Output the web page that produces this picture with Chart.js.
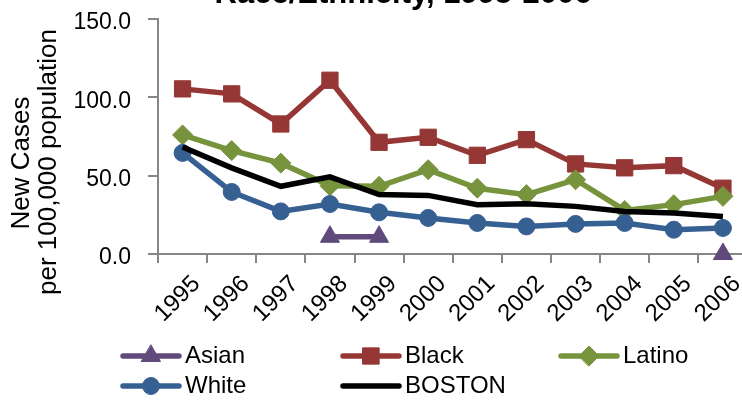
<!DOCTYPE html>
<html>
<head>
<meta charset="utf-8">
<script src="https://cdn.jsdelivr.net/npm/chart.js@4/dist/chart.umd.min.js"></script>
<style>
  html, body { margin: 0; padding: 0; background: #fff; overflow: hidden; }
  #wrap { position: relative; width: 742px; height: 400px; overflow: hidden; }
  #c { position: absolute; left: 0; top: -30px; }
</style>
</head>
<body>
<div id="wrap"><canvas id="c" width="760" height="430"></canvas></div>
<script>
const years = ['1995','1996','1997','1998','1999','2000','2001','2002','2003','2004','2005','2006'];
const asian  = [null, null, null, 11, 11, null, null, null, null, null, null, 0];
const black  = [105.4, 102.2, 83.0, 110.9, 71.3, 74.5, 63.0, 73.0, 57.5, 55.0, 56.4, 42.0];
const latino = [76.0, 66.0, 58.0, 43.6, 43.2, 53.8, 42.0, 37.9, 47.4, 27.8, 31.5, 36.8];
const white  = [64.5, 39.6, 27.2, 31.9, 26.6, 23.0, 19.8, 17.6, 19.2, 19.8, 15.5, 16.6];
const boston = [68.3, 55.0, 43.2, 49.2, 37.9, 37.4, 31.5, 32.1, 30.4, 27.2, 26.2, 24.0];
const yTicks = [0, 50, 100, 150];
const titleText = 'Race/Ethnicity, 1995-2006';
const yTitle = ['New Cases', 'per 100,000 population'];

const FONT = "'Liberation Sans', Arial, sans-serif";
const GRAY = '#868686';

const series = [
  { label: 'Asian',  data: asian,  color: '#604A7B', style: 'triangle', radius: 11, order: 4 },
  { label: 'Black',  data: black,  color: '#953735', style: 'rect',     radius: 11.5, order: 3 },
  { label: 'Latino', data: latino, color: '#77933C', style: 'rectRot',  radius: 10, order: 2 },
  { label: 'White',  data: white,  color: '#376092', style: 'circle',   radius: 8.5, order: 1 },
  { label: 'BOSTON', data: boston, color: '#000000', style: false,      radius: 0, order: 0 }
];

const datasets = series.map(s => ({
  label: s.label,
  data: s.data,
  borderColor: s.color,
  backgroundColor: s.color,
  borderWidth: 5.5,
  pointStyle: s.style,
  pointRadius: s.radius,
  pointHoverRadius: s.radius,
  pointBorderWidth: 1,
  pointBackgroundColor: s.color,
  pointBorderColor: s.color,
  tension: 0,
  spanGaps: false,
  clip: false,
  order: s.order
}));

const decorPlugin = {
  id: 'decor',
  afterDraw(chart) {
    const ctx = chart.ctx;
    ctx.save();
    // title (partially cut off at the top)
    ctx.fillStyle = '#000';
    ctx.font = 'bold 31px ' + FONT;
    ctx.textAlign = 'center';
    ctx.textBaseline = 'alphabetic';
    ctx.fillText(titleText, 403, 33);
    // y axis title
    ctx.font = '26px ' + FONT;
    ctx.textBaseline = 'middle';
    const yc = [[22, 193], [49, 192]];
    yTitle.forEach((t, i) => {
      ctx.save();
      ctx.translate(yc[i][0], yc[i][1]);
      ctx.rotate(-Math.PI / 2);
      ctx.fillText(t, 0, 0);
      ctx.restore();
    });
    // legend
    const cols = [123, 343, 561];
    const rows = [386, 416];
    ctx.font = '24px ' + FONT;
    ctx.textAlign = 'left';
    series.forEach((s, i) => {
      const x = cols[i % 3];
      const y = rows[Math.floor(i / 3)];
      ctx.strokeStyle = s.color;
      ctx.lineWidth = 5.5;
      ctx.lineCap = 'round';
      ctx.beginPath();
      ctx.moveTo(x, y);
      ctx.lineTo(x + 56, y);
      ctx.stroke();
      if (s.style) {
        ctx.fillStyle = s.color;
        ctx.strokeStyle = s.color;
        ctx.lineWidth = 1;
        Chart.helpers.drawPoint(ctx, { pointStyle: s.style, radius: s.radius, rotation: 0, borderWidth: 1 }, x + 28, y);
      }
      ctx.fillStyle = '#000';
      ctx.fillText(s.label, x + 62, y);
    });
    ctx.restore();
  }
};

new Chart(document.getElementById('c'), {
  type: 'line',
  data: { labels: years, datasets },
  plugins: [decorPlugin],
  options: {
    responsive: false,
    devicePixelRatio: 1,
    animation: false,
    layout: { padding: { top: 49, right: 10, left: 0, bottom: 0 } },
    plugins: { legend: { display: false }, title: { display: false }, tooltip: { enabled: false } },
    scales: {
      x: {
        type: 'category',
        offset: true,
        grid: { display: true, offset: true, drawOnChartArea: false, drawTicks: true, tickLength: 9, color: GRAY, lineWidth: 2 },
        border: { display: true, color: GRAY, width: 2 },
        ticks: { color: '#000', font: { family: FONT, size: 24 }, maxRotation: 45, minRotation: 45, autoSkip: false, padding: 7, labelOffset: 14 },
        afterFit(scale) { scale.height = 146; }
      },
      y: {
        min: 0, max: 150,
        afterBuildTicks(scale) { scale.ticks = yTicks.map(v => ({ value: v })); },
        grid: { display: true, drawOnChartArea: false, drawTicks: true, tickLength: 10, color: GRAY, lineWidth: 2 },
        border: { display: true, color: GRAY, width: 2 },
        ticks: { color: '#000', font: { family: FONT, size: 23 }, padding: 17, labelOffset: 4, callback: v => Number(v).toFixed(1) },
        afterFit(scale) { scale.width = 158; }
      }
    }
  }
});
</script>
</body>
</html>
